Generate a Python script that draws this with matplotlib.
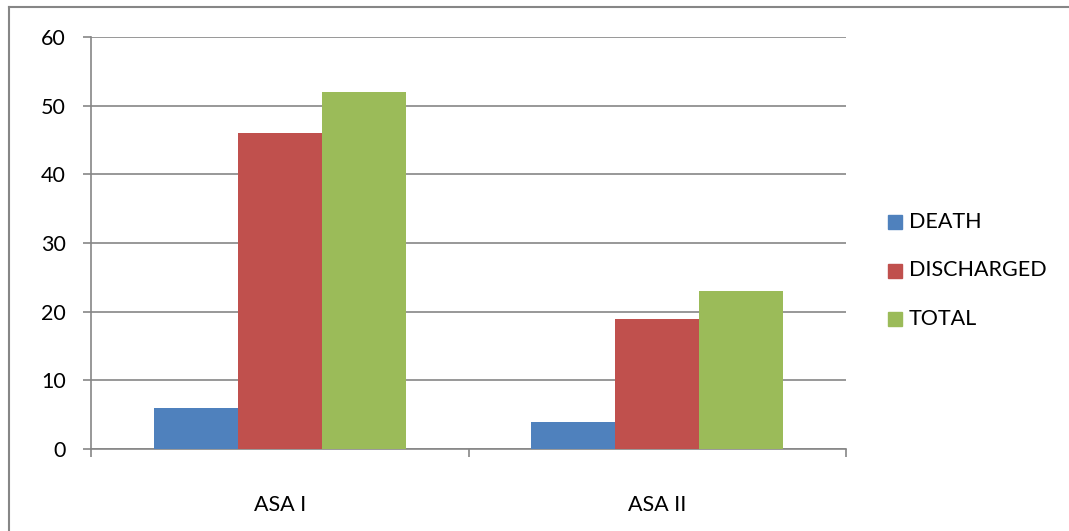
import numpy as np
import matplotlib.pyplot as plt
from matplotlib.lines import Line2D
from matplotlib.patches import Rectangle

categories = ["ASA I", "ASA II"]
series_names = ["DEATH", "DISCHARGED", "TOTAL"]
death = [6, 4]
discharged = [46, 19]
total = [52, 23]

colors = ["#4F81BD", "#C0504D", "#9BBB59"]
grid_col = "#868686"
fs = 15.5

plt.rcParams['font.family'] = ['Lato', 'DejaVu Sans']

W, H = 1069, 531
fig = plt.figure(figsize=(W / 100, H / 100), dpi=100)
ax = fig.add_axes([91 / W, 1 - 449 / H, (846 - 91) / W, (449 - 37) / H])

x = np.arange(len(categories))
bw = 2 / 9
for i, vals in enumerate([death, discharged, total]):
    ax.bar(x + (i - 1) * bw, vals, width=bw, color=colors[i], zorder=3)

ax.set_xlim(-0.5, 1.5)
ax.set_ylim(0, 60)
ax.set_yticks(range(0, 61, 10))
ax.yaxis.grid(True, color=grid_col, linewidth=1.2, zorder=0)

ax.set_xticks([-0.5, 0.5, 1.5])
ax.set_xticklabels([])
ax.set_xticks(x, minor=True)
ax.set_xticklabels(categories, minor=True, fontsize=fs)
ax.tick_params(axis='x', which='minor', length=0, pad=33)
ax.tick_params(axis='x', which='major', length=6, width=1.2, color=grid_col)
ax.tick_params(axis='y', length=6, width=1.2, color=grid_col, labelsize=fs, pad=12)

for s in ['top', 'right']:
    ax.spines[s].set_visible(False)
for s in ['left', 'bottom']:
    ax.spines[s].set_color(grid_col)
    ax.spines[s].set_linewidth(1.2)

# legend drawn in figure pixel coordinates
for i, name in enumerate(series_names):
    yc = 222 + i * 48.5
    fig.patches.append(Rectangle((888 / W, 1 - (yc + 7) / H), 14 / W, 14 / H,
                                 transform=fig.transFigure, color=colors[i]))
    fig.text(909 / W, 1 - yc / H, name, fontsize=fs, va='center', ha='left')

# outer chart border (left and top edges visible)
fig.lines.append(Line2D([9 / W, 9 / W], [0, 1 - 7 / H], transform=fig.transFigure,
                        color=grid_col, linewidth=1.5))
fig.lines.append(Line2D([9 / W, 1], [1 - 7 / H, 1 - 7 / H], transform=fig.transFigure,
                        color=grid_col, linewidth=1.5))

fig.savefig("out.png", dpi=100)
